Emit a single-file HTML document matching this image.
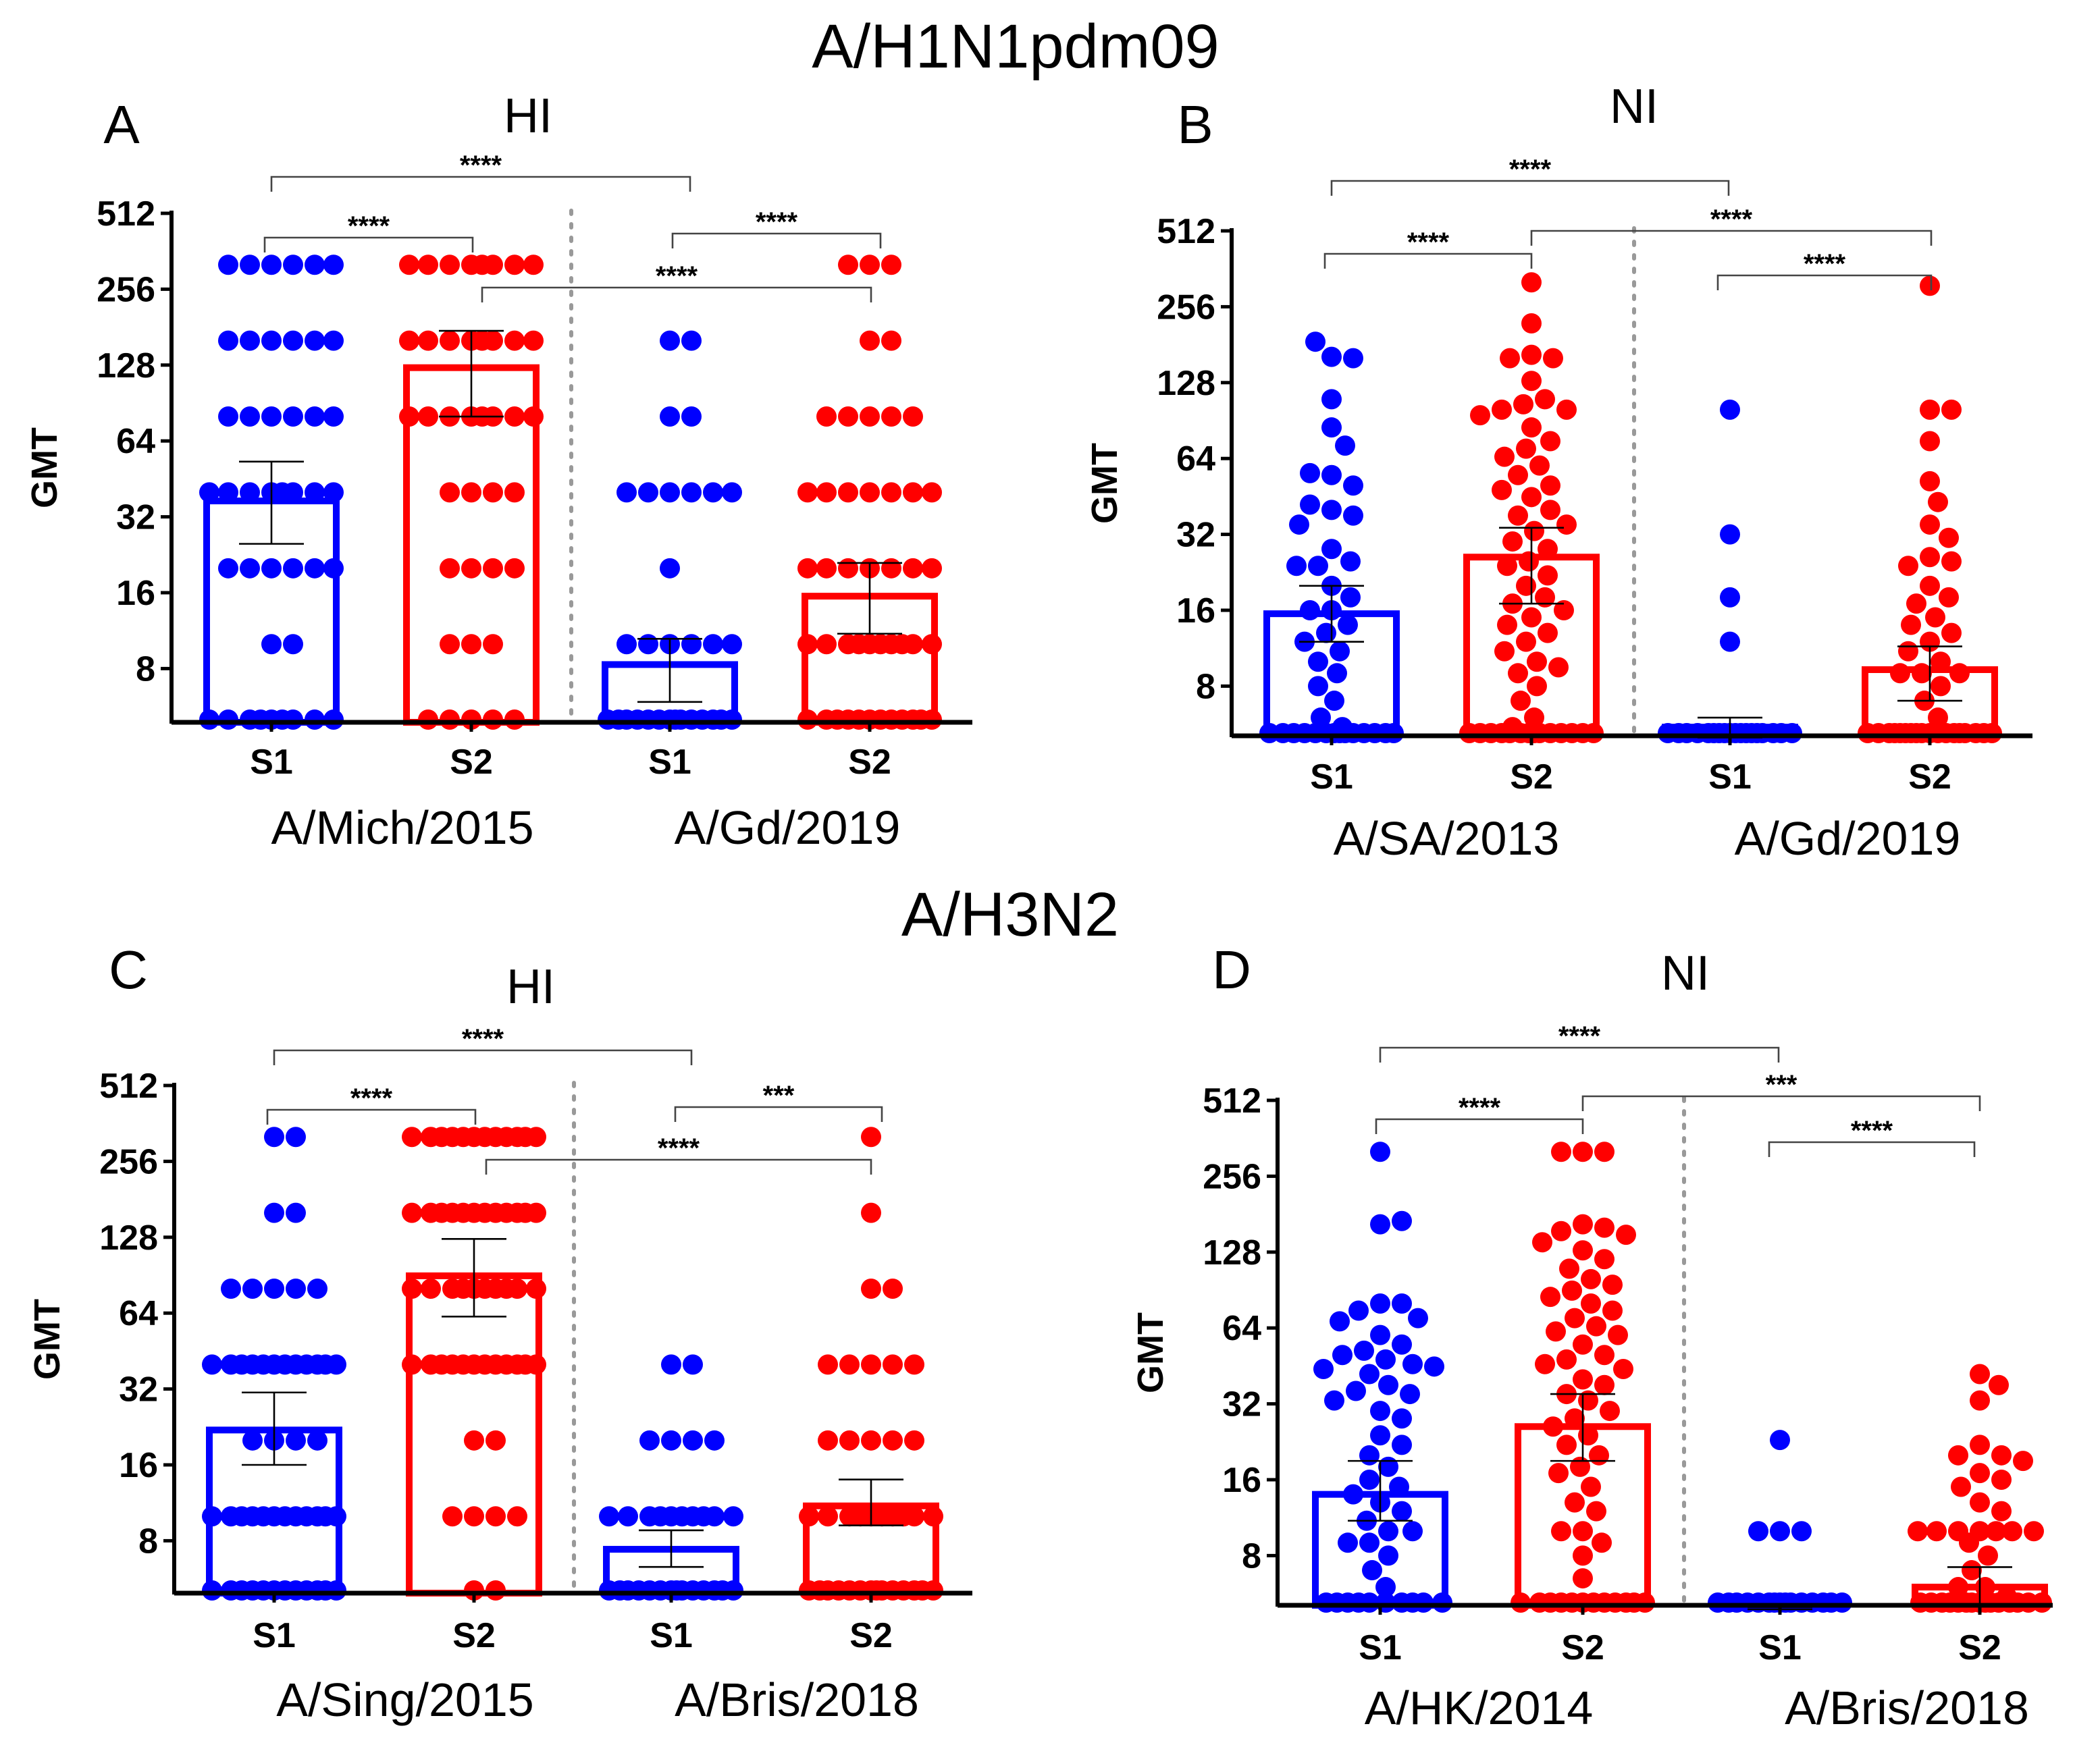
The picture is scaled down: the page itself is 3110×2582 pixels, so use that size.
<!DOCTYPE html>
<html><head><meta charset="utf-8">
<style>
html,body{margin:0;padding:0;background:#fff;}
svg{display:block;}
text{font-family:"Liberation Sans",Arial,sans-serif;}
.tk{font-weight:bold;font-size:26px;}
.ttl{font-size:36px;}
.grp{font-size:35px;}
.star{font-size:20px;font-weight:bold;}
</style></head>
<body>
<svg id="fig" xmlns="http://www.w3.org/2000/svg" width="3110" height="2582" viewBox="0 0 1555 1291">
<rect width="1555" height="1291" fill="#fff"/>
<text x="752" y="50" text-anchor="middle" font-size="46">A/H1N1pdm09</text>
<text x="748" y="693" text-anchor="middle" font-size="46">A/H3N2</text>
</svg>
<script>
// ---- data ----
const panelLetters = ['A','B','C','D'];
const panelAssays = ['HI','NI','HI','NI'];
const groupLabelsA = ['A/Mich/2015','A/Gd/2019'];
const groupLabelsB = ['A/SA/2013','A/Gd/2019'];
const groupLabelsC = ['A/Sing/2015','A/Bris/2018'];
const groupLabelsD = ['A/HK/2014','A/Bris/2018'];
const seriesLabels = ['S1','S2','S1','S2'];
const tickValues = [8,16,32,64,128,256,512];

function rep(v,n){const a=[];for(let i=0;i<n;i++)a.push(v);return a;}
const dotsA1 = [].concat(rep(320,6),rep(160,6),rep(80,6),rep(40,8),rep(20,6),rep(10,2),rep(5,9));
const dotsA2 = [].concat(rep(320,8),rep(160,8),rep(80,8),rep(40,4),rep(20,4),rep(10,3),rep(5,5));
const dotsA3 = [].concat(rep(160,2),rep(80,2),rep(40,6),rep(20,1),rep(10,6),rep(5,14));
const dotsA4 = [].concat(rep(320,3),rep(160,2),rep(80,5),rep(40,7),rep(20,7),rep(10,10),rep(5,12));
const meansA = [37,125,8.3,15.5];
const errLoA = [25,80,5.9,11];
const errHiA = [53,175,10.5,21];

const dotsB1 = [162,160,186,110,85,72,55,50,56,40,38,42,35,28,25,24,24,20,18,16,16,14,13,12,11,10,9,8,7,6,5.5].concat(rep(4.9,14));
const dotsB2 = [320,220,165,160,160,130,110,105,100,100,95,85,75,70,65,60,55,50,48,45,40,38,35,33,30,28,25,24,22,20,18,17,16,15,14,13,12,11,10,9.5,9,8,7,6,5.5].concat(rep(4.9,14));
const dotsB3 = [100,32,18,12].concat(rep(4.9,18));
const dotsB4 = [310,100,100,75,52,43,35,31,26,25,24,20,18,17,15,14,13,12,11,10,9,9,9,8,7,6].concat(rep(4.9,18));
const meansB = [15.5,26,5.5,9.3];
const errLoB = [12,17,5,7];
const errHiB = [20,34,6,11.5];

const dotsC1 = [].concat(rep(320,2),rep(160,2),rep(80,5),rep(40,12),rep(20,4),rep(10,12),rep(5,12));
const dotsC2 = [].concat(rep(320,12),rep(160,12),rep(80,10),rep(40,12),rep(20,2),rep(10,4),rep(5,2));
const dotsC3 = [].concat(rep(40,2),rep(20,4),rep(10,10),rep(5,14));
const dotsC4 = [].concat(rep(320,1),rep(160,1),rep(80,2),rep(40,5),rep(20,5),rep(10,10),rep(5,14));
const meansC = [22,90,7.4,11];
const errLoC = [16,62,6.3,9.2];
const errHiC = [31,126,8.8,14];

const dotsD1 = [320,165,170,80,80,75,70,68,60,55,52,50,48,46,45,44,42,38,36,35,33,30,28,24,22,20,18,16,15,14,13,12,11,10,10,9,9,8,7,6].concat(rep(4.9,10));
const dotsD2 = [320,320,320,165,160,155,150,140,130,120,110,100,95,90,85,80,75,70,65,62,60,55,50,48,46,44,40,38,35,33,30,28,26,24,22,20,18,17,15,13,12,10,10,9,8,6.5].concat(rep(4.9,12));
const dotsD3 = [23,10,10,10].concat(rep(4.9,15));
const dotsD4 = [42,38,33,22,20,20,19,17,16,15,13,12,10,10,10,10,10,10,10,9,8,7,6,6,5.5].concat(rep(4.9,15));
const meansD = [14,26,4.95,6];
const errLoD = [11,19,4.9,5.1];
const errHiD = [19,35,5,7.2];

const sigLabelsA = ['****','****','****','****'];
const sigLabelsB = ['****','****','****','****'];
const sigLabelsC = ['****','****','***','****'];
const sigLabelsD = ['****','****','***','****'];

// ---- layout ----
const panels = [
 {x0:127,xEnd:720,y512:158,base:535,cx:[201,349,496,644],div:423,letter:[90,92],assay:[391,85],glab:[298,583],gy:625,sy:573,
  dots:[dotsA1,dotsA2,dotsA3,dotsA4],means:meansA,lo:errLoA,hi:errHiA,groups:groupLabelsA,sig:sigLabelsA,
  br:[[201,511,131],[196,350,176],[498,652,173],[357,645,213]]},
 {x0:912,xEnd:1505,y512:171,base:545,cx:[986,1134,1281,1429],div:1210,letter:[885,92],assay:[1210,78],glab:[1071,1368],gy:633,sy:584,
  dots:[dotsB1,dotsB2,dotsB3,dotsB4],means:meansB,lo:errLoB,hi:errHiB,groups:groupLabelsB,sig:sigLabelsB,
  br:[[986,1280,134],[981,1134,188],[1134,1430,171],[1272,1430,204]]},
 {x0:129,xEnd:720,y512:804,base:1180,cx:[203,351,497,645],div:425,letter:[95,718],assay:[393,730],glab:[300,590],gy:1271,sy:1220,
  dots:[dotsC1,dotsC2,dotsC3,dotsC4],means:meansC,lo:errLoC,hi:errHiC,groups:groupLabelsC,sig:sigLabelsC,
  br:[[203,512,778],[198,352,822],[500,653,820],[360,645,859]]},
 {x0:946,xEnd:1520,y512:815,base:1189,cx:[1022,1172,1318,1466],div:1247,letter:[912,718],assay:[1248,720],glab:[1095,1412],gy:1277,sy:1229,
  dots:[dotsD1,dotsD2,dotsD3,dotsD4],means:meansD,lo:errLoD,hi:errHiD,groups:groupLabelsD,sig:sigLabelsD,
  br:[[1022,1317,776],[1019,1172,829],[1172,1466,812],[1310,1462,846]]}
];
const PPD = 56.2;
const colors = ['#0000ff','#ff0000','#0000ff','#ff0000'];
const NS='http://www.w3.org/2000/svg';
const svg=document.getElementById('fig');
function mk(tag,attrs,parent){const e=document.createElementNS(NS,tag);for(const k in attrs)e.setAttribute(k,attrs[k]);(parent||svg).appendChild(e);return e;}

panels.forEach((p,pi)=>{
  const g=mk('g',{});
  
  
  const y=v=>p.y512+PPD*Math.log2(512/v);
  const L=mk('text',{x:p.letter[0],y:p.letter[1]+14,'font-size':40,'text-anchor':'middle'},g);L.textContent=panelLetters[pi];
  
  
  const A=mk('text',{x:p.assay[0],y:p.assay[1]+13,'font-size':36,'text-anchor':'middle'},g);A.textContent=panelAssays[pi];
  
  
  const ym=(p.y512+p.base)/2;
  const yt=mk('text',{x:0,y:0,transform:`translate(${p.x0-85},${ym}) rotate(-90)`,'font-size':27,'font-weight':'bold','text-anchor':'middle'},g);yt.textContent='GMT';
  
  
  tickValues.forEach(v=>{
    const ty=y(v);
    mk('line',{x1:p.x0-8,x2:p.x0,y1:ty,y2:ty,stroke:'#000','stroke-width':2.5},g);
    const t=mk('text',{x:p.x0-12,y:ty+9,class:'tk','text-anchor':'end'},g);t.textContent=v;
    
    
  });
  mk('line',{x1:p.div,x2:p.div,y1:p.y512-2,y2:p.base,stroke:'#999','stroke-width':3,'stroke-dasharray':'2.5 7.5','stroke-linecap':'round'},g);
  p.means.forEach((m,i)=>{
    const top=y(m);
    const b=mk('rect',{x:p.cx[i]-48,y:top,width:96,height:p.base-top,fill:'none',stroke:colors[i],'stroke-width':5},g);
    
    
  });
  p.dots.forEach((arr,i)=>{
    const placed=[];
    const offs=[0];for(let d=2;d<=46;d+=2){offs.push(d,-d);}
    arr.forEach(v=>{
      const dy=Math.min(y(v),p.base-2);
      let best=0,bestD=-1;
      for(const o of offs){
        let md=1e9;for(const q of placed){const dd=Math.hypot(q[0]-o,q[1]-dy);if(dd<md)md=dd;}
        if(md>=16){best=o;bestD=1e9;break;}
        if(md>bestD){bestD=md;best=o;}
      }
      placed.push([best,dy]);
      const c=mk('circle',{cx:p.cx[i]+best,cy:dy,r:7.5,fill:colors[i]},g);
      
      
    });
  });
  p.means.forEach((m,i)=>{
    const yl=y(p.lo[i]),yh=y(p.hi[i]),x=p.cx[i];
    mk('line',{x1:x,x2:x,y1:yh,y2:yl,stroke:'#000','stroke-width':1.3},g);
    mk('line',{x1:x-24,x2:x+24,y1:yh,y2:yh,stroke:'#000','stroke-width':1.3},g);
    mk('line',{x1:x-24,x2:x+24,y1:yl,y2:yl,stroke:'#000','stroke-width':1.3},g);
  });
  mk('line',{x1:p.x0,x2:p.x0,y1:p.y512-2,y2:p.base+1,stroke:'#000','stroke-width':3},g);
  mk('line',{x1:p.x0,x2:p.xEnd,y1:p.base,y2:p.base,stroke:'#000','stroke-width':3.5},g);
  p.cx.forEach((x,i)=>{
    mk('line',{x1:x,x2:x,y1:p.base,y2:p.base+7,stroke:'#000','stroke-width':2.5},g);
    const s=mk('text',{x:x,y:p.sy,class:'tk','font-size':26,'text-anchor':'middle'},g);s.textContent=seriesLabels[i];
    
    
  });
  p.groups.forEach((gl,i)=>{
    const t=mk('text',{x:p.glab[i],y:p.gy,class:'grp','text-anchor':'middle'},g);t.textContent=gl;
    
    
  });
  p.br.forEach((b,i)=>{
    mk('path',{d:`M${b[0]},${b[2]+11}V${b[2]}H${b[1]}V${b[2]+11}`,fill:'none',stroke:'#444','stroke-width':1.3},g);
    const t=mk('text',{x:(b[0]+b[1])/2,y:b[2]-2,class:'star','text-anchor':'middle'},g);t.textContent=p.sig[i];
    
    
  });
});
</script>
</body></html>
